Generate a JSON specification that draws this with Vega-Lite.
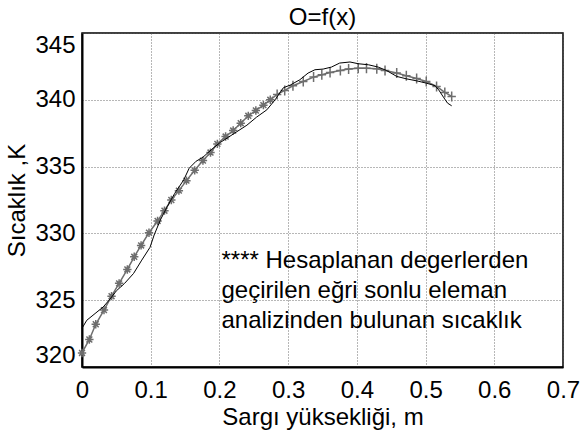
{
  "$schema": "https://vega.github.io/schema/vega-lite/v6.json",
  "width": 481,
  "height": 334,
  "autosize": {"type": "none"},
  "padding": {"left": 82, "top": 33, "right": 24, "bottom": 67},
  "background": "white",
  "title": {"text": "O=f(x)", "fontSize": 24, "fontWeight": "normal", "font": "Liberation Sans", "color": "black", "offset": 3},
  "config": {
    "font": "Liberation Sans",
    "view": {"stroke": "black", "strokeWidth": 1.5},
    "axis": {
      "labelFont": "Liberation Sans", "titleFont": "Liberation Sans",
      "labelFontSize": 24, "titleFontSize": 24, "titleFontWeight": "normal",
      "labelColor": "black", "titleColor": "black",
      "domainColor": "black", "domainWidth": 2,
      "ticks": false, "tickSize": 0,
      "grid": true, "gridColor": "#555", "gridDash": [1, 2], "gridWidth": 1, "gridOpacity": 0.85
    }
  },
  "datasets": {
    "curves": [
      {"series": "hesap", "marker": "star", "x": 0, "y": 321.05},
      {"series": "hesap", "marker": "star", "x": 0.0107, "y": 322.06},
      {"series": "hesap", "marker": "star", "x": 0.02, "y": 323.2},
      {"series": "hesap", "marker": "star", "x": 0.032, "y": 324.26},
      {"series": "hesap", "marker": "star", "x": 0.043, "y": 325.3},
      {"series": "hesap", "marker": "star", "x": 0.054, "y": 326.26},
      {"series": "hesap", "marker": "star", "x": 0.066, "y": 327.3},
      {"series": "hesap", "marker": "star", "x": 0.076, "y": 328.25},
      {"series": "hesap", "marker": "star", "x": 0.086, "y": 329.1},
      {"series": "hesap", "marker": "star", "x": 0.0975, "y": 330.05},
      {"series": "hesap", "marker": "star", "x": 0.11, "y": 330.93},
      {"series": "hesap", "marker": "star", "x": 0.12, "y": 331.7},
      {"series": "hesap", "marker": "star", "x": 0.13, "y": 332.5},
      {"series": "hesap", "marker": "star", "x": 0.141, "y": 333.2},
      {"series": "hesap", "marker": "star", "x": 0.152, "y": 333.95},
      {"series": "hesap", "marker": "star", "x": 0.164, "y": 334.72},
      {"series": "hesap", "marker": "star", "x": 0.176, "y": 335.45},
      {"series": "hesap", "marker": "star", "x": 0.187, "y": 336.05},
      {"series": "hesap", "marker": "star", "x": 0.197, "y": 336.7},
      {"series": "hesap", "marker": "star", "x": 0.209, "y": 337.25},
      {"series": "hesap", "marker": "star", "x": 0.22, "y": 337.7},
      {"series": "hesap", "marker": "star", "x": 0.231, "y": 338.25},
      {"series": "hesap", "marker": "star", "x": 0.242, "y": 338.8},
      {"series": "hesap", "marker": "star", "x": 0.253, "y": 339.2},
      {"series": "hesap", "marker": "star", "x": 0.264, "y": 339.6},
      {"series": "hesap", "marker": "star", "x": 0.274, "y": 340.0},
      {"series": "hesap", "marker": "plus", "x": 0.284, "y": 340.4},
      {"series": "hesap", "marker": "plus", "x": 0.295, "y": 340.7},
      {"series": "hesap", "marker": "plus", "x": 0.307, "y": 341.05},
      {"series": "hesap", "marker": "plus", "x": 0.322, "y": 341.37},
      {"series": "hesap", "marker": "plus", "x": 0.337, "y": 341.7},
      {"series": "hesap", "marker": "plus", "x": 0.349, "y": 341.87},
      {"series": "hesap", "marker": "plus", "x": 0.361, "y": 342.05},
      {"series": "hesap", "marker": "plus", "x": 0.376, "y": 342.2},
      {"series": "hesap", "marker": "plus", "x": 0.388, "y": 342.3},
      {"series": "hesap", "marker": "plus", "x": 0.402, "y": 342.37},
      {"series": "hesap", "marker": "plus", "x": 0.414, "y": 342.37},
      {"series": "hesap", "marker": "plus", "x": 0.429, "y": 342.33},
      {"series": "hesap", "marker": "plus", "x": 0.441, "y": 342.2},
      {"series": "hesap", "marker": "plus", "x": 0.458, "y": 342.0},
      {"series": "hesap", "marker": "plus", "x": 0.472, "y": 341.8},
      {"series": "hesap", "marker": "plus", "x": 0.487, "y": 341.6},
      {"series": "hesap", "marker": "plus", "x": 0.501, "y": 341.37},
      {"series": "hesap", "marker": "plus", "x": 0.516, "y": 341.0},
      {"series": "hesap", "marker": "plus", "x": 0.528, "y": 340.55},
      {"series": "hesap", "marker": "plus", "x": 0.538, "y": 340.25},
      {"series": "sonlu", "marker": "none", "x": 0, "y": 322.9},
      {"series": "sonlu", "marker": "none", "x": 0.007, "y": 323.5},
      {"series": "sonlu", "marker": "none", "x": 0.019, "y": 324.0},
      {"series": "sonlu", "marker": "none", "x": 0.031, "y": 324.5},
      {"series": "sonlu", "marker": "none", "x": 0.041, "y": 325.1},
      {"series": "sonlu", "marker": "none", "x": 0.05, "y": 325.7},
      {"series": "sonlu", "marker": "none", "x": 0.062, "y": 326.26},
      {"series": "sonlu", "marker": "none", "x": 0.075, "y": 327.0},
      {"series": "sonlu", "marker": "none", "x": 0.087, "y": 328.0},
      {"series": "sonlu", "marker": "none", "x": 0.099, "y": 328.96},
      {"series": "sonlu", "marker": "none", "x": 0.105, "y": 329.88},
      {"series": "sonlu", "marker": "none", "x": 0.114, "y": 331.0},
      {"series": "sonlu", "marker": "none", "x": 0.124, "y": 332.0},
      {"series": "sonlu", "marker": "none", "x": 0.135, "y": 333.0},
      {"series": "sonlu", "marker": "none", "x": 0.148, "y": 334.0},
      {"series": "sonlu", "marker": "none", "x": 0.156, "y": 334.88},
      {"series": "sonlu", "marker": "none", "x": 0.166, "y": 335.4},
      {"series": "sonlu", "marker": "none", "x": 0.176, "y": 335.7},
      {"series": "sonlu", "marker": "none", "x": 0.189, "y": 336.3},
      {"series": "sonlu", "marker": "none", "x": 0.201, "y": 336.8},
      {"series": "sonlu", "marker": "none", "x": 0.211, "y": 337.13},
      {"series": "sonlu", "marker": "none", "x": 0.225, "y": 337.6},
      {"series": "sonlu", "marker": "none", "x": 0.24, "y": 338.1},
      {"series": "sonlu", "marker": "none", "x": 0.254, "y": 338.7},
      {"series": "sonlu", "marker": "none", "x": 0.269, "y": 339.25},
      {"series": "sonlu", "marker": "none", "x": 0.281, "y": 340.0},
      {"series": "sonlu", "marker": "none", "x": 0.293, "y": 340.9},
      {"series": "sonlu", "marker": "none", "x": 0.303, "y": 341.1},
      {"series": "sonlu", "marker": "none", "x": 0.317, "y": 341.5},
      {"series": "sonlu", "marker": "none", "x": 0.329, "y": 342.0},
      {"series": "sonlu", "marker": "none", "x": 0.339, "y": 342.25},
      {"series": "sonlu", "marker": "none", "x": 0.351, "y": 342.3},
      {"series": "sonlu", "marker": "none", "x": 0.363, "y": 342.45},
      {"series": "sonlu", "marker": "none", "x": 0.375, "y": 342.75},
      {"series": "sonlu", "marker": "none", "x": 0.39, "y": 342.83},
      {"series": "sonlu", "marker": "none", "x": 0.402, "y": 342.7},
      {"series": "sonlu", "marker": "none", "x": 0.417, "y": 342.62},
      {"series": "sonlu", "marker": "none", "x": 0.431, "y": 342.45},
      {"series": "sonlu", "marker": "none", "x": 0.443, "y": 342.2},
      {"series": "sonlu", "marker": "none", "x": 0.458, "y": 341.75},
      {"series": "sonlu", "marker": "none", "x": 0.472, "y": 341.57},
      {"series": "sonlu", "marker": "none", "x": 0.487, "y": 341.42},
      {"series": "sonlu", "marker": "none", "x": 0.501, "y": 341.25},
      {"series": "sonlu", "marker": "none", "x": 0.514, "y": 341.05},
      {"series": "sonlu", "marker": "none", "x": 0.519, "y": 340.75},
      {"series": "sonlu", "marker": "none", "x": 0.526, "y": 340.2},
      {"series": "sonlu", "marker": "none", "x": 0.532, "y": 339.75},
      {"series": "sonlu", "marker": "none", "x": 0.538, "y": 339.55}
    ],
    "notes": [
      {"label": "**** Hesaplanan degerlerden", "x": 0.203, "y": 327.41},
      {"label": "geçirilen eğri sonlu eleman", "x": 0.203, "y": 325.16},
      {"label": "analizinden bulunan sıcaklık", "x": 0.203, "y": 322.91}
    ]
  },
  "encoding": {
    "x": {"field": "x", "type": "quantitative",
      "scale": {"domain": [0, 0.7], "nice": false, "zero": false},
      "axis": {"values": [0, 0.1, 0.2, 0.3, 0.4, 0.5, 0.6, 0.7], "format": "~g", "title": "Sargı yüksekliği, m", "labelPadding": 11, "titlePadding": 3, "labelFlush": false}},
    "y": {"field": "y", "type": "quantitative",
      "scale": {"domain": [320, 345], "nice": false, "zero": false},
      "axis": {"values": [320, 325, 330, 335, 340, 345], "title": "Sıcaklık ,K", "labelPadding": 7, "titlePadding": 5, "labelFlush": true}}
  },
  "layer": [
    {
      "data": {"name": "curves"},
      "transform": [{"filter": "datum.series === 'hesap'"}],
      "mark": {"type": "line", "color": "#6e6e6e", "strokeWidth": 1.5},
      "encoding": {"order": {"field": "x", "type": "quantitative"}}
    },
    {
      "data": {"name": "curves"},
      "transform": [{"filter": "datum.series === 'hesap'"}],
      "mark": {"type": "point", "filled": false, "strokeWidth": 1.5, "color": "#6e6e6e", "opacity": 1},
      "encoding": {
        "shape": {"field": "marker", "type": "nominal",
          "scale": {"domain": ["star", "plus"], "range": ["M-1,0L1,0M0,-1L0,1M-0.7,-0.7L0.7,0.7M-0.7,0.7L0.7,-0.7", "M-1,0L1,0M0,-1.2L0,1.2"]},
          "legend": null},
        "size": {"value": 70}
      }
    },
    {
      "data": {"name": "curves"},
      "transform": [{"filter": "datum.series === 'sonlu'"}],
      "mark": {"type": "line", "color": "black", "strokeWidth": 1},
      "encoding": {"order": {"field": "x", "type": "quantitative"}}
    },
    {
      "data": {"name": "notes"},
      "mark": {"type": "text", "align": "left", "baseline": "alphabetic", "fontSize": 24, "font": "Liberation Sans", "color": "black"},
      "encoding": {"text": {"field": "label", "type": "nominal"}}
    }
  ]
}
